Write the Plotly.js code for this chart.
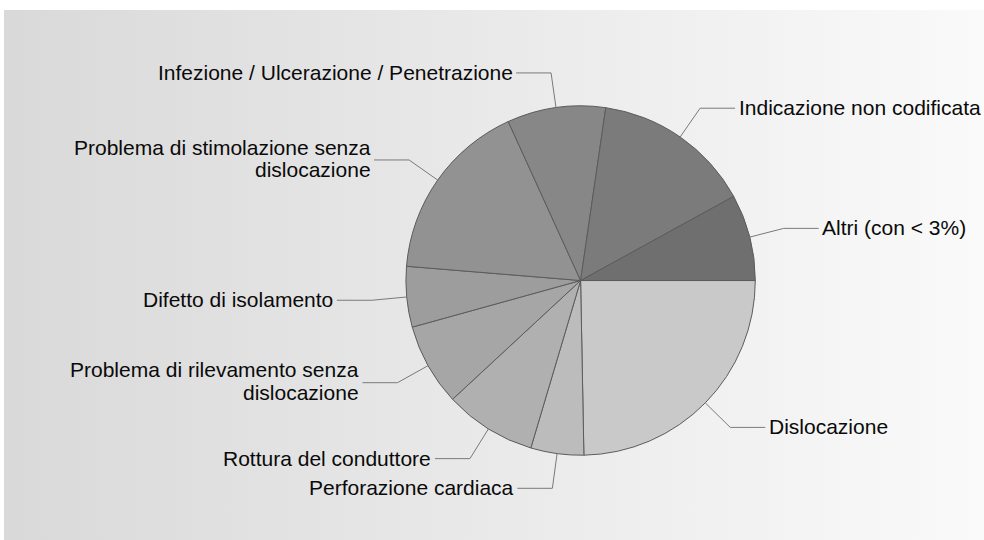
<!DOCTYPE html>
<html><head><meta charset="utf-8">
<script src="https://cdn.plot.ly/plotly-3.0.1.min.js"></script>
<style>
html,body{margin:0;padding:0;background:#ffffff;}
#wrap{position:relative;width:984px;height:540px;overflow:hidden;}
#bg{position:absolute;left:4px;top:10px;width:980px;height:530px;background:linear-gradient(to right,#d9d9d9,#fafafa);}
#chart{position:absolute;left:0;top:0;width:984px;height:540px;}
</style></head><body>
<div id="wrap"><div id="bg"></div><div id="chart"></div></div>
<script>
// Data (clockwise from 3 o'clock)
const categories = [
  "Dislocazione",
  "Perforazione cardiaca",
  "Rottura del conduttore",
  "Problema di rilevamento senza\ndislocazione",
  "Difetto di isolamento",
  "Problema di stimolazione senza\ndislocazione",
  "Infezione / Ulcerazione / Penetrazione",
  "Indicazione non codificata",
  "Altri (con < 3%)"
];
const values = [24.7, 4.9, 8.5, 7.6, 5.6, 16.9, 9.1, 14.7, 8.0];
const sliceColors = ["#c9c9c9", "#bcbcbc", "#b0b0b0", "#a6a6a6", "#9d9d9d", "#929292", "#878787", "#7b7b7b", "#6f6f6f"];

const W = 984, H = 540;
const dom = {x: [0.4125, 0.7676], y: [0.157, 0.804]};
const cx = (dom.x[0] + dom.x[1]) / 2 * W;
const cy = (1 - (dom.y[0] + dom.y[1]) / 2) * H;
const R = Math.min((dom.x[1] - dom.x[0]) * W, (dom.y[1] - dom.y[0]) * H) / 2;
const px = x => x / W, py = y => 1 - y / H;

const total = values.reduce((a, b) => a + b, 0);
const shapes = [], annotations = [];
let cum = 0;
const fontSpec = {family: "Liberation Sans, Arial, sans-serif", size: 21, color: "#0a0a0a"};
values.forEach((v, i) => {
  const th = (cum + v / 2) / total * 2 * Math.PI;
  cum += v;
  const c = Math.cos(th), s = Math.sin(th);
  const ex = cx + R * c, ey = cy + R * s;
  const bx = cx + (R + 35) * c, by = cy + (R + 35) * s;
  const dir = c >= 0 ? 1 : -1;
  const hx = bx + dir * 35;
  shapes.push({
    type: "path", xref: "paper", yref: "paper",
    path: `M ${px(ex)} ${py(ey)} L ${px(bx)} ${py(by)} L ${px(hx)} ${py(by)}`,
    line: {color: "#7a7a7a", width: 1}
  });
  const lines = categories[i].split("\n");
  const offs = lines.length === 1 ? [-0.5] : [-12.8, 9.8];
  lines.forEach((t, k) => {
    annotations.push({
      xref: "paper", yref: "paper",
      x: px(hx + dir * 1.5), y: py(by + offs[k]),
      xanchor: dir > 0 ? "left" : "right", yanchor: "middle",
      text: t, showarrow: false, font: fontSpec, align: dir > 0 ? "left" : "right"
    });
  });
});

const trace = {
  type: "pie",
  labels: categories.map(c => c.replace("\n", " ")),
  values: values,
  sort: false,
  direction: "clockwise",
  rotation: 90,
  textinfo: "none",
  hoverinfo: "none",
  domain: dom,
  marker: {colors: sliceColors, line: {color: "#5c5c5c", width: 1}}
};

Plotly.newPlot("chart", [trace], {
  width: W, height: H,
  margin: {l: 0, r: 0, t: 0, b: 0},
  paper_bgcolor: "rgba(0,0,0,0)",
  plot_bgcolor: "rgba(0,0,0,0)",
  showlegend: false,
  shapes: shapes,
  annotations: annotations
}, {staticPlot: true});
</script>
</body></html>
